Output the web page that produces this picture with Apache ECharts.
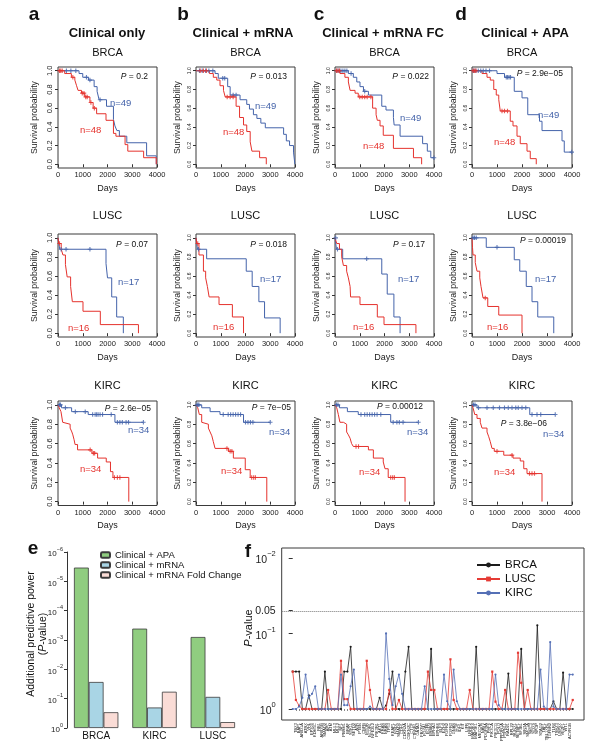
<!DOCTYPE html>
<html><head><meta charset="utf-8">
<script src="https://cdn.jsdelivr.net/npm/echarts@6/dist/echarts.min.js"></script>
<style>html,body{margin:0;padding:0;background:#fff}#c{width:592px;height:750px}</style>
</head><body><div id="c"></div>
<script>
// ================= DATA =================
const columnTitles = ['Clinical only', 'Clinical + mRNA', 'Clinical + mRNA FC', 'Clinical + APA'];
const panelLetters = ['a', 'b', 'c', 'd'];
const cancerRows = ['BRCA', 'LUSC', 'KIRC'];
const kmPValues = [
  ['0.2', '0.013', '0.022', '2.9e\u221205'],
  ['0.07', '0.018', '0.17', '0.00019'],
  ['2.6e\u221205', '7e\u221205', '0.00012', '3.8e\u221206']
];
const nBlue = ['n=49', 'n=17', 'n=34'];
const nRed = ['n=48', 'n=16', 'n=34'];
const kmTicksX = [0, 1000, 2000, 3000, 4000];
const kmTicksY = [0, 0.2, 0.4, 0.6, 0.8, 1.0];

// ---- BRCA ---- (steps: [days, survival]; censor: days)
const brcaA_blue = [[0,1],[850,0.97],[1000,0.93],[1230,0.90],[1460,0.83],[1580,0.78],[1660,0.69],[1960,0.62],[2240,0.48],[2300,0.41],[2380,0.36],[2480,0.30],[2780,0.23],[3580,0.09],[3970,0]];
const brcaA_blueCens = [340,520,720,1150,1290,1700];
const brcaA_red = [[0,1],[270,0.97],[540,0.93],[680,0.90],[750,0.84],[810,0.79],[950,0.76],[1080,0.72],[1290,0.66],[1420,0.60],[1560,0.54],[1940,0.47],[2240,0.33],[2340,0.30],[2710,0.21],[2820,0.14],[3460,0.07],[3970,0]];
const brcaA_redCens = [60,110,170,600,980,1050,1120,1180,1330,1470];
const brcaB_blue = [[0,1],[770,0.97],[900,0.92],[1280,0.83],[1380,0.74],[1780,0.69],[2050,0.64],[2160,0.59],[2320,0.53],[2460,0.49],[2620,0.44],[2800,0.39],[3540,0.32],[3650,0.25],[3780,0.20],[3940,0.13],[3995,0]];
const brcaB_blueCens = [140,250,390,520,680,1080,1160,1500,1620];
const brcaB_red = [[0,1],[540,0.97],[700,0.93],[840,0.90],[970,0.84],[1110,0.79],[1180,0.72],[1620,0.62],[1760,0.50],[1920,0.42],[2050,0.35],[2190,0.24],[2260,0.14],[2570,0.07],[2840,0]];
const brcaB_redCens = [170,300,420,1260,1380,1500];
const brcaC_blue = [[0,1],[540,0.97],[740,0.93],[880,0.88],[1010,0.83],[1150,0.78],[1350,0.74],[1890,0.62],[2060,0.58],[2360,0.50],[2390,0.42],[2630,0.30],[3540,0.22],[3730,0.14],[3870,0.07]];
const brcaC_blueCens = [80,160,240,320,400,480,650,1200,4000];
const brcaC_red = [[0,1],[200,0.97],[400,0.93],[540,0.88],[610,0.79],[810,0.76],[940,0.72],[1520,0.60],[1660,0.53],[1710,0.47],[1820,0.41],[1950,0.31],[2360,0.17],[3170,0.07],[3500,0]];
const brcaC_redCens = [60,120,180,1000,1100,1200,1300,1450];
const brcaD_blue = [[0,1],[1000,0.97],[1300,0.93],[1690,0.78],[2000,0.71],[2230,0.53],[2700,0.46],[2800,0.36],[3600,0.25],[3690,0.13]];
const brcaD_blueCens = [60,150,250,350,450,560,700,1370,1420,1480,1540,3990];
const brcaD_red = [[0,1],[400,0.97],[600,0.93],[730,0.90],[870,0.80],[970,0.74],[1070,0.69],[1130,0.57],[1530,0.46],[1640,0.41],[1800,0.30],[1930,0.22],[2200,0.14],[2330,0.06],[2570,0]];
const brcaD_redCens = [40,100,160,1200,1300,1420];
// ---- LUSC ----
const luscA_blue = [[0,1],[70,0.88],[1940,0.73],[2000,0.58],[2170,0.38],[2370,0.17],[2640,0]];
const luscA_blueCens = [125,325,1290];
const luscA_red = [[0,1],[30,0.94],[130,0.88],[200,0.82],[300,0.72],[370,0.59],[510,0.49],[580,0.33],[1010,0.23],[1710,0.09],[3250,0]];
const luscA_redCens = [60];
const luscB_blue = [[0,1],[60,0.88],[430,0.78],[2030,0.65],[2270,0.49],[2540,0.33],[2770,0.16],[3400,0]];
const luscB_blueCens = [100];
const luscB_red = [[0,1],[30,0.94],[120,0.82],[300,0.65],[390,0.58],[460,0.49],[530,0.38],[930,0.30],[1470,0.17],[1920,0]];
const luscB_redCens = [70];
const luscC_blue = [[0,1],[60,0.88],[310,0.78],[1890,0.62],[2110,0.41],[2380,0.17],[2630,0]];
const luscC_blueCens = [30,100,1280];
const luscC_red = [[0,1],[70,0.94],[180,0.88],[270,0.80],[340,0.71],[470,0.65],[540,0.58],[610,0.49],[630,0.38],[1010,0.30],[1710,0.17],[1980,0.09],[3270,0]];
const luscC_redCens = [];
const luscD_blue = [[0,1],[570,0.90],[1690,0.77],[1910,0.65],[2170,0.49],[2400,0.33],[2630,0.17],[3270,0]];
const luscD_blueCens = [40,100,170,1000];
const luscD_red = [[0,1],[20,0.90],[40,0.82],[130,0.74],[200,0.65],[310,0.58],[360,0.49],[440,0.37],[630,0.28],[1070,0.19],[2000,0]];
const luscD_redCens = [530];
// ---- KIRC ----
const kircA_blue = [[0,1],[140,0.97],[550,0.93],[1220,0.90],[2300,0.82]];
const kircA_blueCens = [60,100,300,700,1100,1400,1500,1560,1620,1700,1800,2150,2400,2500,2600,2750,2850,3450];
const kircA_red = [[0,1],[50,0.97],[120,0.93],[190,0.82],[240,0.80],[490,0.76],[560,0.72],[600,0.69],[650,0.64],[690,0.59],[790,0.535],[1370,0.50],[1600,0.45],[1950,0.41],[2120,0.31],[2220,0.25],[2860,0]];
const kircA_redCens = [1300,1430,1480,2280,2400,2500];
const kircB_blue = [[0,1],[230,0.97],[570,0.93],[970,0.90],[1920,0.82]];
const kircB_blueCens = [40,80,120,1100,1300,1400,1500,1600,1700,1800,2000,2100,2200,2300,3000];
const kircB_red = [[0,1],[70,0.97],[135,0.90],[230,0.82],[300,0.80],[500,0.76],[570,0.72],[640,0.68],[700,0.62],[770,0.55],[1310,0.52],[1510,0.45],[1990,0.33],[2190,0.25],[2860,0]];
const kircB_redCens = [1250,1380,1450,2250,2330,2400];
const kircC_blue = [[0,1],[180,0.97],[500,0.93],[940,0.90],[2250,0.82]];
const kircC_blueCens = [60,120,1050,1200,1300,1400,1500,1600,1700,1850,2350,2500,2600,2750,3370];
const kircC_red = [[0,1],[70,0.97],[135,0.90],[200,0.82],[340,0.80],[470,0.72],[540,0.69],[610,0.655],[670,0.60],[740,0.57],[1350,0.535],[1550,0.45],[1950,0.41],[2020,0.34],[2150,0.25],[2830,0]];
const kircC_redCens = [850,950,2250,2330,2400];
const kircD_blue = [[0,1],[200,0.97],[2310,0.90]];
const kircD_blueCens = [60,120,260,600,850,1100,1300,1450,1600,1750,1850,2000,2150,2400,2600,2750,3330];
const kircD_red = [[0,1],[40,0.97],[110,0.90],[200,0.86],[330,0.82],[400,0.76],[600,0.72],[670,0.67],[730,0.62],[800,0.55],[890,0.52],[1270,0.48],[1640,0.45],[1930,0.42],[2070,0.34],[2200,0.29],[2800,0]];
const kircD_redCens = [1000,1600,2300,2400,2500];

// ---- panel e ----
const eCategories = ['BRCA', 'KIRC', 'LUSC'];
const eSeriesNames = ['Clinical + APA', 'Clinical + mRNA', 'Clinical + mRNA Fold Change'];
const eApa = [3.4e-6, 4.1e-4, 7.9e-4];
const eMrna = [0.027, 0.2, 0.087];
const eMrnaFC = [0.29, 0.058, 0.63];

// ---- panel f ----
const fGenes = ['NOTCH1','TBX3','BAP1','ARID1A','ATRX','VHL','EP300','KDM5C','RB1','ARID5B',
 'SMAD2','APC','ATM','MLL3','MLL2','NF1','PBRM1','BRAF','STK11','SETD2',
 'ATR','PTEN','CBFB','MTOR','NCOR1','NFE2L2','PIK3R1','AKT1','KRAS','NRAS',
 'TP53','KEAP1','NSD1','SMAD4','CDH1','CDKN2A','CDKN2C','CTCF','CTNNB1','GATA3',
 'FBXW7','FOXA1','EGFR','ERBB4','EPHA3','EPHB6','ELF3','EZH2','FGFR2','FGFR3',
 'GNAS','HGF','IDH1','KIT','LIFR','LRRK2','MAP2K4','MAP3K1','MECOM','NAV3',
 'PDGFRA','PHF6','PIK3CA','PIK3CG','POLQ','PPP2R1A','PTPN11','RAD21','RPL22','RUNX1',
 'SETBP1','SF3B1','SIN3A','SMC1A','SMC3','SOX9','SPOP','STAG2','TAF1','TBL1XR1',
 'TGFBR2','TLR4','TSHZ3','USP9X','VEZF1','WT1','ACVR1B','AXIN2'];
const fBRCA = [0.32,0.32,0.32,1,1,0.66,1,1,1,1,
 0.32,1,1,1,1,1,0.32,0.32,0.15,1,
 1,1,1,1,1,1,1,0.71,1,0.9,
 0.63,0.32,1,1,1,0.32,0.15,1,1,1,
 1,1,1,0.16,1,1,1,1,1,1,
 1,1,1,1,1,1,1,0.15,1,1,
 1,1,1,1,1,1,1,0.34,1,1,
 1,0.16,1,1,1,1,0.078,1,1,1,
 1,0.79,1,1,0.33,1,1,1];
const fLUSC = [0.32,0.76,0.91,1,1,1,1,1,1,1,
 1,0.56,1,1,1,0.23,0.74,0.74,1,1,
 1,1,1,0.23,0.56,1,1,1,1,1,
 0.56,1,1,0.76,1,1,1,1,1,1,
 1,1,0.32,0.56,0.56,1,1,1,1,0.22,
 0.76,1,1,1,1,0.56,1,1,1,1,
 1,1,0.32,0.8,1,1,0.56,1,1,1,
 0.18,0.45,1,0.56,1,1,1,1,1,1,
 1,1,1,1,1,1,1,0.76];
const fKIRC = [1,1,0.93,0.71,0.35,0.71,0.63,0.5,1,1,
 1,1,1,1,1,0.35,0.89,0.89,0.5,0.3,
 1,1,1,1,0.93,1,1,1,1,0.1,
 0.4,0.89,0.5,0.35,0.63,1,1,1,1,1,
 1,0.5,1,1,1,1,1,0.35,0.79,1,
 0.3,0.79,1,1,1,1,1,1,1,1,
 1,1,1,0.35,0.89,1,1,1,1,1,
 1,1,1,1,1,1,1,0.3,0.93,1,
 0.13,0.93,1,1,1,1,0.35,0.35];
const fYTickP = [1, 0.1, 0.05, 0.01];
const fCutoff = 0.05;

// ================= LAYOUT / STYLE =================
const FONT = 'Liberation Sans, Arial, Helvetica, sans-serif';
const RED = '#e5322d', BLUE = '#4463aa';
const cols = [{left:58, w:99}, {left:196, w:99}, {left:335, w:99}, {left:472, w:100}];
const rows = [{top:67, h:101}, {top:234, h:103}, {top:401, h:104.5}];
const pPos = [[[148,77],[287,77],[429,77],[563,74]], [[148,245],[287,245],[425,245],[566,241]], [[151,409],[291,408],[423,407],[547,424]]];
const nBluePos = [[[110,103],[255,106],[400,118],[538,115]], [[118,282],[260,279],[398,279],[535,279]], [[128,430],[269,432],[407,432],[543,434]]];
const nRedPos = [[[80,130],[223,132],[363,146],[494,142]], [[68,328],[213,327],[353,327],[487,327]], [[80,469],[221,471],[359,472],[494,472]]];
const titleX = [107, 243, 383, 525];
const letterX = [34, 183, 319, 461];

const kmData = [
  [[brcaA_blue,brcaA_blueCens,brcaA_red,brcaA_redCens],[brcaB_blue,brcaB_blueCens,brcaB_red,brcaB_redCens],[brcaC_blue,brcaC_blueCens,brcaC_red,brcaC_redCens],[brcaD_blue,brcaD_blueCens,brcaD_red,brcaD_redCens]],
  [[luscA_blue,luscA_blueCens,luscA_red,luscA_redCens],[luscB_blue,luscB_blueCens,luscB_red,luscB_redCens],[luscC_blue,luscC_blueCens,luscC_red,luscC_redCens],[luscD_blue,luscD_blueCens,luscD_red,luscD_redCens]],
  [[kircA_blue,kircA_blueCens,kircA_red,kircA_redCens],[kircB_blue,kircB_blueCens,kircB_red,kircB_redCens],[kircC_blue,kircC_blueCens,kircC_red,kircC_redCens],[kircD_blue,kircD_blueCens,kircD_red,kircD_redCens]]
];

const PLUS = 'path://M3,0H5V3H8V5H5V8H3V5H0V3H3Z';
function survAt(steps, t) { let s = steps[0][1]; for (const p of steps) { if (p[0] <= t) s = p[1]; else break; } return s; }

const grids = [], xAxes = [], yAxes = [], series = [], graphic = [];
function txt(x, y, text, o) {
  o = o || {};
  graphic.push({ type:'text', x:x, y:y, rotation:o.rot||0, silent:true, z:100,
    style:{ text:text, fill:o.color||'#111', fontSize:o.size||10, fontFamily:FONT, fontWeight:o.weight||'normal',
      fontStyle:o.style||'normal', align:o.align||'center', verticalAlign:'middle', rich:o.rich } });
}

let gi = 0;
for (let r = 0; r < 3; r++) {
  for (let c = 0; c < 4; c++) {
    grids.push({ left:cols[c].left, top:rows[r].top, width:cols[c].w, height:rows[r].h, show:true, borderColor:'#3a3a3a', borderWidth:1 });
    xAxes.push({ gridIndex:gi, type:'value', min:0, max:4000, axisLine:{show:false}, splitLine:{show:false},
      axisTick:{show:true, inside:false, customValues:kmTicksX, length:3, lineStyle:{color:'#333'}},
      axisLabel:{customValues:kmTicksX, fontSize:7.5, margin:3, color:'#222', fontFamily:FONT, formatter:v => String(v)},
      name:'Days', nameLocation:'middle', nameGap:16, nameTextStyle:{fontSize:9, color:'#222', fontFamily:FONT} });
    yAxes.push({ gridIndex:gi, type:'value', min:-0.04, max:1.04, axisLine:{show:false}, splitLine:{show:false},
      axisTick:{show:true, inside:false, customValues:kmTicksY, length:3, lineStyle:{color:'#333'}},
      axisLabel:{customValues:kmTicksY, rotate:90, fontSize:c===0?7.5:5, margin:4, color:'#222', fontFamily:FONT, formatter:v=>v.toFixed(1)},
      name:'Survival probability', nameLocation:'middle', nameGap:c===0?19:14, nameTextStyle:{fontSize:8.7, color:'#222', fontFamily:FONT} });
    const d = kmData[r][c];
    [[d[0], d[1], BLUE], [d[2], d[3], RED]].forEach(([steps, cens, color]) => {
      const data = steps.slice();
      const last = steps[steps.length - 1];
      const maxC = cens.length ? Math.max.apply(null, cens) : -1;
      if (maxC > last[0]) data.push([maxC, last[1]]);
      series.push({ type:'line', step:'end', xAxisIndex:gi, yAxisIndex:gi, data:data, symbol:'none', silent:true,
        lineStyle:{color:color, width:1}, z:3 });
      series.push({ type:'scatter', xAxisIndex:gi, yAxisIndex:gi, data:cens.map(t => [t, survAt(steps, t)]), symbol:PLUS,
        symbolSize:4.5, silent:true, itemStyle:{color:color}, z:4 });
    });
    txt(pPos[r][c][0], pPos[r][c][1], '{i|P} = ' + kmPValues[r][c], { size:8.5, align:'right',
      rich:{ i:{ fontStyle:'italic', fontSize:8.5, fontFamily:FONT, fill:'#111' } } });
    txt(nBluePos[r][c][0], nBluePos[r][c][1], nBlue[r], { size:9.5, color:BLUE, align:'left' });
    txt(nRedPos[r][c][0], nRedPos[r][c][1], nRed[r], { size:9.5, color:RED, align:'left' });
    txt(cols[c].left + cols[c].w / 2, [53, 216, 386][r], cancerRows[r], { size:11 });
    gi++;
  }
}
for (let c = 0; c < 4; c++) {
  txt(letterX[c], 15, panelLetters[c], { size:19, weight:'bold' });
  txt(titleX[c], 33, columnTitles[c], { size:13, weight:'bold' });
}

// ---- panel e ----
const eGrid = gi;
grids.push({ left:67, top:552, width:175, height:176 });
xAxes.push({ gridIndex:eGrid, type:'category', data:eCategories, axisLine:{show:false}, axisTick:{show:false},
  axisLabel:{fontSize:10, margin:3, color:'#111', fontFamily:FONT} });
const supRich = (bs, ss) => ({ b:{fontSize:bs, fontFamily:FONT, color:'#222', padding:[Math.round(bs*0.45),0,0,0]},
  s:{fontSize:ss, fontFamily:FONT, color:'#222', verticalAlign:'top'} });
yAxes.push({ gridIndex:eGrid, type:'value', min:0, max:6, interval:1, splitLine:{show:false},
  axisLine:{show:true, lineStyle:{color:'#333'}}, axisTick:{show:true, inside:false, length:3, lineStyle:{color:'#333'}},
  axisLabel:{ margin:4, formatter:v => '{b|10}{s|' + (v === 0 ? '0' : '\u2212' + v) + '}', rich:supRich(8, 5.5) } });
const eColors = ['#90cd80', '#a9d5e5', '#fadcd6'];
[eApa, eMrna, eMrnaFC].forEach((arr, k) => {
  series.push({ type:'bar', name:eSeriesNames[k], xAxisIndex:eGrid, yAxisIndex:eGrid, data:arr.map(p => -Math.log10(p)),
    barWidth:14.8, barGap:'0%', silent:true, itemStyle:{color:eColors[k], borderColor:'#3b3b3b', borderWidth:0.8} });
});
txt(33, 549, 'e', { size:19, weight:'bold' });
txt(31, 634, 'Additional predictive power', { size:10.5, rot:Math.PI/2 });
txt(43, 634, '({i|P}-value)', { size:10.5, rot:Math.PI/2, rich:{ i:{fontStyle:'italic', fontSize:10.5, fontFamily:FONT, fill:'#111'} } });

// ---- panel f ----
const fGrid = gi + 1;
const fIdx = fGenes.map((g, i) => i);
const fTickVals = fYTickP.map(p => -Math.log10(p));
grids.push({ left:281.7, top:548, width:302.3, height:172, show:true, borderColor:'#3a3a3a', borderWidth:1 });
xAxes.push({ gridIndex:fGrid, type:'value', min:-3.42, max:90.5, axisLine:{show:false}, splitLine:{show:false},
  axisTick:{show:true, inside:false, customValues:fIdx, length:2, lineStyle:{color:'#333', width:0.6}},
  axisLabel:{customValues:fIdx, rotate:90, fontSize:4, margin:3, color:'#222', fontFamily:FONT, formatter:v => fGenes[Math.round(v)]} });
yAxes.push({ gridIndex:fGrid, type:'value', min:-0.146, max:2.132, axisLine:{show:false}, splitLine:{show:false},
  axisTick:{show:true, inside:false, customValues:fTickVals, length:4, lineStyle:{color:'#333'}},
  axisLabel:{customValues:fTickVals, margin:6, color:'#222',
    formatter:v => { const p = Math.pow(10, -v); if (Math.abs(p - fCutoff) < 1e-6) return '{n|' + String(fCutoff) + '}';
      const e = Math.round(v); return '{b|10}{s|' + (e === 0 ? '0' : '\u2212' + e) + '}'; },
    rich:Object.assign(supRich(10.5, 7.5), { n:{fontSize:10.5, fontFamily:FONT, color:'#222'} }) } });
const fSeries = [['BRCA', fBRCA, '#1c1c1c', 'circle'], ['LUSC', fLUSC, '#e53b35', 'rect'], ['KIRC', fKIRC, '#5570b6', 'circle']];
fSeries.forEach(([name, arr, color, sym], k) => {
  const s = { type:'line', name:name, xAxisIndex:fGrid, yAxisIndex:fGrid, data:arr.map((p, i) => [i, -Math.log10(p)]),
    symbol:sym, symbolSize:2.2, silent:true, lineStyle:{color:color, width:0.8}, itemStyle:{color:color}, z:3 + k };
  if (k === 0) s.markLine = { silent:true, symbol:['none','none'], label:{show:false},
    lineStyle:{type:'dotted', color:'#777', width:1}, data:[{ yAxis:-Math.log10(fCutoff) }] };
  series.push(s);
});
txt(248, 552, 'f', { size:19, weight:'bold' });
txt(249, 628, '{i|P}-value', { size:11, rot:Math.PI/2, rich:{ i:{fontStyle:'italic', fontSize:11, fontFamily:FONT, fill:'#111'} } });

const chart = echarts.init(document.getElementById('c'), null, { renderer:'canvas' });
chart.setOption({
  animation:false,
  backgroundColor:'#fff',
  textStyle:{ fontFamily:FONT },
  grid:grids, xAxis:xAxes, yAxis:yAxes, series:series, graphic:graphic,
  legend:[
    { data:eSeriesNames, left:95, top:545, orient:'vertical', itemWidth:9, itemHeight:5.5, itemGap:0,
      textStyle:{fontSize:9.5, lineHeight:9.3, color:'#111', fontFamily:FONT}, selectedMode:false },
    { data:['BRCA','LUSC','KIRC'], left:471, top:553, orient:'vertical', itemWidth:23, itemHeight:6, itemGap:0,
      textStyle:{fontSize:11.5, lineHeight:14, color:'#111', fontFamily:FONT}, selectedMode:false }
  ]
});
</script></body></html>
